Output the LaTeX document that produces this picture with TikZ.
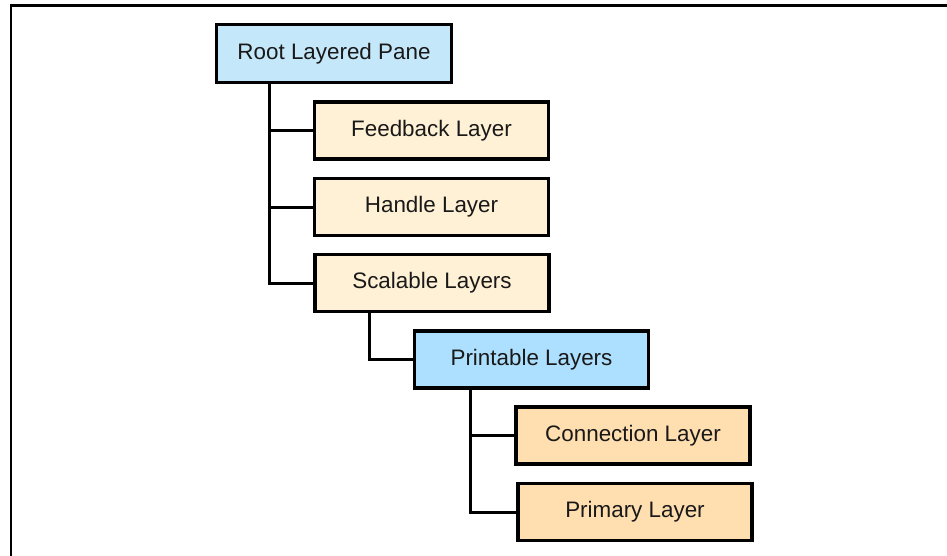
\documentclass[tikz,border=0pt]{standalone}
\usepackage{fontspec}
\setmainfont{Liberation Sans}
\definecolor{rootblue}{RGB}{197,231,250}
\definecolor{printblue}{RGB}{173,223,254}
\definecolor{cream}{RGB}{255,241,214}
\definecolor{peach}{RGB}{255,222,176}
\begin{document}
\begin{tikzpicture}[x=1pt,y=-1pt,
  layerbox/.style={draw=black, line width=3.2pt, rectangle, minimum width=234pt, minimum height=57pt,
    inner sep=0pt, font=\fontsize{22.4}{26}\selectfont, text=black!90},
  conn/.style={draw=black, line width=3pt}]
\useasboundingbox (0,0) rectangle (947,556);
\draw[line width=2.6pt] (11,556) -- (11,5.5) -- (947,5.5);
\node[layerbox, fill=rootblue, minimum width=235pt, minimum height=58pt] (root) at (334,53.5) {Root Layered Pane};
\node[layerbox, fill=cream] (fb) at (431.5,130.5) {Feedback Layer};
\node[layerbox, fill=cream] (hl) at (431.5,207) {Handle Layer};
\node[layerbox, fill=cream] (sc) at (432,283) {Scalable Layers};
\node[layerbox, fill=printblue] (pr) at (531.5,359.5) {Printable Layers};
\node[layerbox, fill=peach] (cn) at (633,435.5) {Connection Layer};
\node[layerbox, fill=peach] (pm) at (635,512) {Primary Layer};
\coordinate (t1) at ([xshift=-65pt]root.south);
\coordinate (t2) at ([xshift=-63pt]sc.south);
\coordinate (t3) at ([xshift=-61.5pt]pr.south);
\draw[conn] (t1) |- (fb.west);
\draw[conn] (t1) |- (hl.west);
\draw[conn] (t1) |- (sc.west);
\draw[conn] (t2) |- (pr.west);
\draw[conn] (t3) |- (cn.west);
\draw[conn] (t3) |- (pm.west);
\end{tikzpicture}
\end{document}
